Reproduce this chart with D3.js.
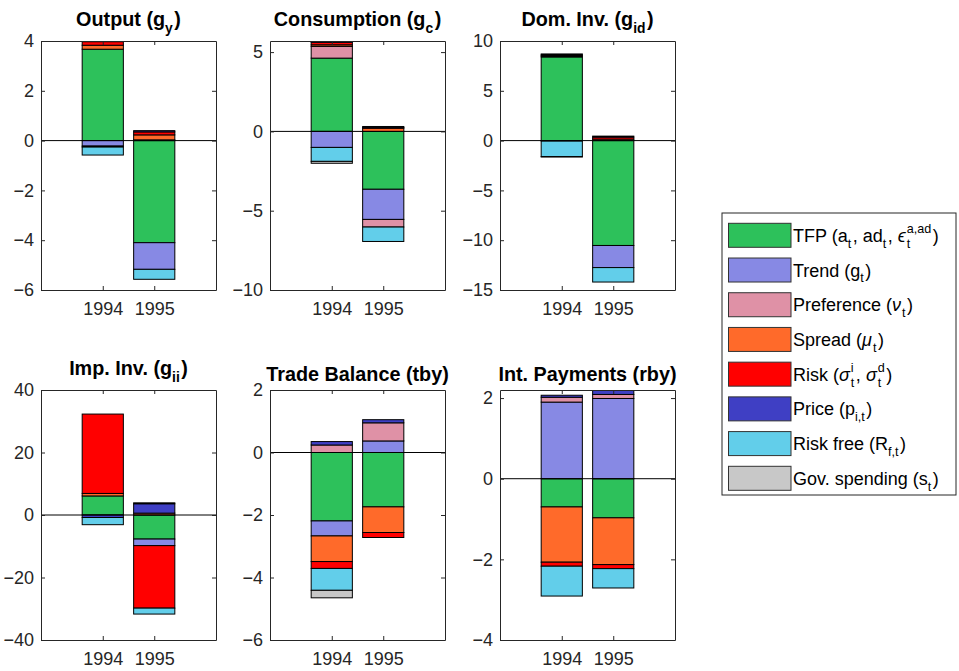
<!DOCTYPE html>
<html>
<head>
<meta charset="utf-8">
<script src="https://cdn.jsdelivr.net/npm/d3@7"></script>
<style>
  body { margin: 0; background: #fff; }
  text { font-family: "Liberation Sans", Arial, Helvetica, sans-serif; white-space: pre; }
</style>
</head>
<body>
<svg id="chart" width="959" height="671"></svg>
<script>
// ---- data ----
const years = [1994, 1995];
const shocks = ["TFP", "Trend", "Preference", "Spread", "Risk", "Price", "Risk free", "Gov. spending"];
const shockColors = ["#2dc15b", "#8789e4", "#df91a6", "#ff6a2a", "#ff0000", "#3f3fc4", "#62ceea", "#c8c8c8"];

// one row per year, one value per shock (same order as shocks)
const outputVals = [[3.67, -0.22, 0, 0.16, 0.14, -0.04, -0.32, 0],
                    [-4.1, -1.07, 0.03, 0.2, 0.12, 0.05, -0.4, 0]];
const consVals   = [[4.62, -1.01, 0.74, 0.1, 0.16, 0.08, -0.88, -0.12],
                    [-3.65, -1.9, -0.48, 0.2, 0.04, 0.07, -0.91, 0]];
const domInvVals = [[8.4, -0.05, 0, 0.1, 0.1, 0.1, -1.55, -0.05],
                    [-10.53, -2.22, 0, 0.15, 0.2, 0.1, -1.45, 0]];
const impInvVals = [[6.1, 0, 0, 0.8, 25.4, -0.8, -2.3, 0],
                    [-7.7, -2.1, 0, 0.6, -20, 3.0, -1.9, 0.3]];
const tbyVals    = [[-2.19, -0.48, 0.24, -0.82, -0.22, 0.11, -0.7, -0.24],
                    [-1.74, 0.37, 0.58, -0.82, -0.16, 0.1, 0, 0]];
const rbyVals    = [[-0.7, 1.9, 0.12, -1.37, -0.1, 0.05, -0.74, 0],
                    [-0.97, 1.99, 0.1, -1.16, -0.1, 0.11, -0.48, 0]];

const outputTicks = [-6, -4, -2, 0, 2, 4];
const consTicks   = [-10, -5, 0, 5];
const domInvTicks = [-15, -10, -5, 0, 5, 10];
const impInvTicks = [-40, -20, 0, 20, 40];
const tbyTicks    = [-6, -4, -2, 0, 2];
const rbyTicks    = [-4, -2, 0, 2];

// ---- layout ----
const svg = d3.select("#chart");
svg.append("rect").attr("width", 959).attr("height", 671).attr("fill", "#fff");

const axisColor = "#262626";
const cols = [41, 270, 500], axW = 175;
const rows = [{top: 41, bottom: 290}, {top: 390, bottom: 640}];

const panels = [
  {title: ["Output (g", {sub: "y"}, ")"], vals: outputVals, ylim: [-6, 4], ticks: outputTicks, c: 0, r: 0},
  {title: ["Consumption (g", {sub: "c"}, ")"], vals: consVals, ylim: [-10, 5.7], ticks: consTicks, c: 1, r: 0},
  {title: ["Dom. Inv. (g", {sub: "id"}, ")"], vals: domInvVals, ylim: [-15, 10], ticks: domInvTicks, c: 2, r: 0},
  {title: ["Imp. Inv. (g", {sub: "ii"}, ")"], vals: impInvVals, ylim: [-40, 40], ticks: impInvTicks, c: 0, r: 1},
  {title: ["Trade Balance (tby)"], vals: tbyVals, ylim: [-6, 2], ticks: tbyTicks, c: 1, r: 1},
  {title: ["Int. Payments (rby)"], vals: rbyVals, ylim: [-4, 2.2], ticks: rbyTicks, c: 2, r: 1}
];

// hidden text used to measure pieces
const measurer = svg.append("text").attr("x", -1000).attr("y", -1000);
function textWidth(str, fs, weight, italic) {
  measurer.style("font-size", fs + "px").style("font-weight", weight)
    .style("font-style", italic ? "italic" : "normal").text(str);
  return measurer.node().getComputedTextLength();
}

// one <text> with tspans placed one after another (sub/superscripts stacked)
function richText(parent, x, y, parts, size, weight, anchor) {
  const pieces = [];
  let cx = 0;
  const sub = size * 0.7;
  parts.forEach(p => {
    if (typeof p === "string") {
      pieces.push({s: p, x: cx, y: 0, fs: size});
      cx += textWidth(p, size, weight, false);
    } else if (p.greek) {
      pieces.push({s: p.greek, x: cx, y: 0, fs: size, it: true});
      cx += textWidth(p.greek, size, weight, true) + 1;
    } else {
      let w = 0;
      if (p.sub) { pieces.push({s: p.sub, x: cx, y: size * 0.33, fs: sub}); w = Math.max(w, textWidth(p.sub, sub, weight)); }
      if (p.sup) { pieces.push({s: p.sup, x: cx, y: -size * 0.48, fs: sub}); w = Math.max(w, textWidth(p.sup, sub, weight)); }
      cx += w + 1.5;
    }
  });
  const x0 = x + (anchor === "middle" ? -cx / 2 : 0);
  const t = parent.append("text").attr("fill", "#000").style("font-weight", weight);
  pieces.forEach(pc => {
    const ts = t.append("tspan")
      .attr("x", x0 + pc.x).attr("y", y + pc.y)
      .style("font-size", pc.fs + "px").text(pc.s);
    if (pc.it) ts.style("font-style", "italic");
  });
  return t;
}

const stack = d3.stack()
  .keys(d3.range(shocks.length))
  .offset(d3.stackOffsetDiverging);

panels.forEach((p, pi) => {
  const left = cols[p.c], right = left + axW;
  const top = rows[p.r].top, bottom = rows[p.r].bottom;

  const x = d3.scaleLinear().domain([1992.8, 1996.2]).range([left, right]);
  const y = d3.scaleLinear().domain(p.ylim).range([bottom, top]);

  const g = svg.append("g");
  g.append("clipPath").attr("id", "clip" + pi)
    .append("rect").attr("x", left).attr("y", top).attr("width", axW).attr("height", bottom - top);

  const rowsData = years.map((yr, i) => {
    const o = {year: yr};
    p.vals[i].forEach((v, k) => o[k] = v);
    return o;
  });
  const series = stack(rowsData);

  const bars = g.append("g").attr("clip-path", `url(#clip${pi})`);
  bars.selectAll("g.series")
    .data(series)
    .join("g")
      .attr("class", "series")
      .attr("fill", d => shockColors[d.key])
    .selectAll("rect")
    .data(d => d.filter(s => s[1] !== s[0]))
    .join("rect")
      .attr("x", d => x(d.data.year - 0.4))
      .attr("width", d => x(d.data.year + 0.4) - x(d.data.year - 0.4))
      .attr("y", d => y(Math.max(d[0], d[1])))
      .attr("height", d => Math.abs(y(d[0]) - y(d[1])))
      .attr("stroke", "#000")
      .attr("stroke-width", 1);

  // zero line
  g.append("line")
    .attr("x1", left).attr("x2", right)
    .attr("y1", y(0)).attr("y2", y(0))
    .attr("stroke", "#000").attr("stroke-width", 1);

  // axes, ticks pointing inwards, box all round
  const styleAxis = a => {
    a.selectAll("path").attr("stroke", axisColor);
    a.selectAll("line").attr("stroke", axisColor);
    a.selectAll("text").attr("fill", axisColor).style("font-size", "18px");
  };
  g.append("g").attr("transform", `translate(${left},0)`)
    .call(d3.axisLeft(y).tickValues(p.ticks).tickFormat(d3.format("d"))
      .tickSizeInner(-4).tickSizeOuter(0).tickPadding(7))
    .call(styleAxis);
  g.append("g").attr("transform", `translate(${right},0)`)
    .call(d3.axisRight(y).tickValues(p.ticks).tickFormat("")
      .tickSizeInner(-4).tickSizeOuter(0))
    .call(styleAxis);
  g.append("g").attr("transform", `translate(0,${bottom})`)
    .call(d3.axisBottom(x).tickValues(years).tickFormat(d3.format("d"))
      .tickSizeInner(-4).tickSizeOuter(0).tickPadding(12))
    .call(styleAxis);
  g.append("g").attr("transform", `translate(0,${top})`)
    .call(d3.axisTop(x).tickValues(years).tickFormat("")
      .tickSizeInner(-4).tickSizeOuter(0))
    .call(styleAxis);

  // title (titles with a subscript sit a bit higher)
  const hasSub = p.title.some(t => typeof t !== "string");
  richText(svg, (left + right) / 2, top - (hasSub ? 15 : 9), p.title, 19.8, "bold", "middle");
});

// ---- legend ----
const legendLabels = [
  ["TFP (a", {sub: "t"}, ", ad", {sub: "t"}, ", ", {greek: "\u03f5"}, {sub: "t", sup: "a,ad"}, ")"],
  ["Trend (g", {sub: "t"}, ")"],
  ["Preference (", {greek: "\u03bd"}, {sub: "t"}, ")"],
  ["Spread (", {greek: "\u03bc"}, {sub: "t"}, ")"],
  ["Risk (", {greek: "\u03c3"}, {sub: "t", sup: "i"}, ", ", {greek: "\u03c3"}, {sub: "t", sup: "d"}, ")"],
  ["Price (p", {sub: "i,t"}, ")"],
  ["Risk free (R", {sub: "f,t"}, ")"],
  ["Gov. spending (s", {sub: "t"}, ")"]
];

const leg = svg.append("g");
leg.append("rect")
  .attr("x", 722).attr("y", 213).attr("width", 234).attr("height", 282)
  .attr("fill", "#fff").attr("stroke", axisColor).attr("stroke-width", 1);

const ly = d3.scalePoint().domain(d3.range(shocks.length)).range([235.3, 478.3]);
shocks.forEach((s, i) => {
  leg.append("rect")
    .attr("x", 728.5).attr("y", ly(i) - 12).attr("width", 62.5).attr("height", 24)
    .attr("fill", shockColors[i]).attr("stroke", "#333").attr("stroke-width", 1);
  richText(leg, 793, ly(i) + 6.5, legendLabels[i], 18, "normal", "start");
});
measurer.remove();
</script>
</body>
</html>
